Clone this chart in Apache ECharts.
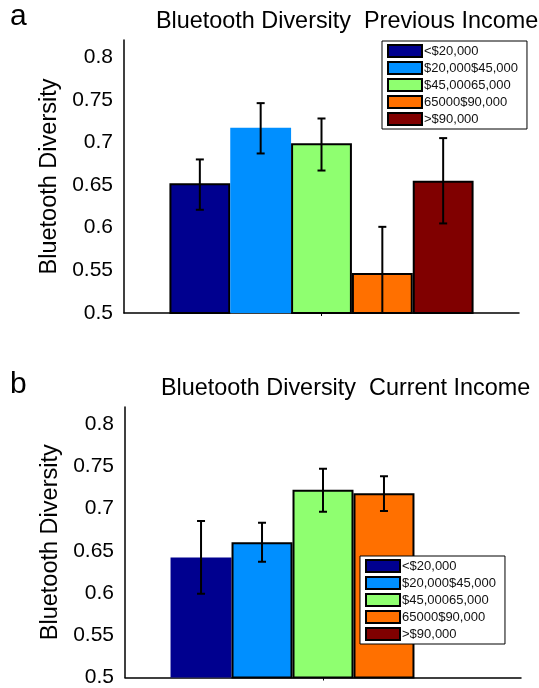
<!DOCTYPE html>
<html>
<head>
<meta charset="utf-8">
<script src="https://cdn.jsdelivr.net/npm/echarts@6/dist/echarts.min.js"></script>
<style>
html,body{margin:0;padding:0;background:#fff;}
#c{width:539px;height:688px;}
</style>
</head>
<body>
<div id="c"></div>
<script>
// ---- data ----
const incomeGroups = ['<$20,000', '$20,000$45,000', '$45,00065,000', '65000$90,000', '>$90,000'];
const groupColors = ['#00008F', '#008FFF', '#8FFF70', '#FF7000', '#800000'];

const prevMean = [0.652, 0.717, 0.699, 0.547, 0.655];
const prevLow  = [0.621, 0.687, 0.667, 0.493, 0.605];
const prevHigh = [0.680, 0.746, 0.728, 0.601, 0.705];

const currMean = [0.642, 0.660, 0.722, 0.718, null];
const currLow  = [0.599, 0.637, 0.696, 0.697, null];
const currHigh = [0.685, 0.683, 0.747, 0.738, null];

const yTicks = { min: 0.5, max: 0.82, interval: 0.05 };
const titles = ['Bluetooth Diversity  Previous Income', 'Bluetooth Diversity  Current Income'];
const panelLetters = ['a', 'b'];
const yName = 'Bluetooth Diversity';

// ---- style ----
const FONT = "'Liberation Sans', Arial, Helvetica, sans-serif";
const CAT_GAP = 0.23;
const noBorder = [[1], [0]]; // bars drawn without outline in reference

const chart = echarts.init(document.getElementById('c'), null, { renderer: 'canvas' });

function barSeries(means, gi) {
  return incomeGroups.map((name, i) => ({
    type: 'bar',
    name: name,
    xAxisIndex: gi,
    yAxisIndex: gi,
    barGap: '0%',
    barCategoryGap: (CAT_GAP * 100) + '%',
    data: [means[i] == null ? '-' : means[i]],
    itemStyle: {
      color: groupColors[i],
      borderColor: noBorder[gi].indexOf(i) >= 0 ? groupColors[i] : '#000',
      borderWidth: noBorder[gi].indexOf(i) >= 0 ? 0 : 2
    },
    emphasis: { disabled: true },
    animation: false
  }));
}

function errSeries(means, lows, highs, gi) {
  const data = [];
  means.forEach((m, i) => { if (m != null) data.push([0, i, lows[i], highs[i]]); });
  return {
    type: 'custom',
    name: 'err' + gi,
    xAxisIndex: gi,
    yAxisIndex: gi,
    clip: true,
    z: 5,
    encode: { x: 0, y: [2, 3] },
    data: data,
    animation: false,
    renderItem: function (params, api) {
      const c = api.value(0), i = api.value(1);
      const top = api.coord([c, api.value(3)]);
      const bot = api.coord([c, api.value(2)]);
      const band = api.size([1, 0])[0];
      const total = band * (1 - CAT_GAP);
      const bw = total / incomeGroups.length;
      const x = top[0] - total / 2 + (i + 0.5) * bw;
      const cap = 4;
      const st = { stroke: '#000', lineWidth: 2 };
      return {
        type: 'group',
        children: [
          { type: 'line', shape: { x1: x, y1: top[1], x2: x, y2: bot[1] }, style: st },
          { type: 'line', shape: { x1: x - cap, y1: top[1], x2: x + cap, y2: top[1] }, style: st },
          { type: 'line', shape: { x1: x - cap, y1: bot[1], x2: x + cap, y2: bot[1] }, style: st }
        ]
      };
    }
  };
}

const grids = [
  { left: 124, top: 40, width: 395, height: 273 },
  { left: 125, top: 407, width: 396, height: 273 }
];

function xAxis(gi) {
  return {
    type: 'category', gridIndex: gi, data: [''],
    axisLine: { lineStyle: { color: '#000', width: 1.5 } },
    axisTick: { show: true, alignWithLabel: true, length: 3, lineStyle: { color: '#000' } },
    axisLabel: { show: false },
    splitLine: { show: false }
  };
}
function yAxis(gi) {
  return {
    type: 'value', gridIndex: gi,
    min: yTicks.min, max: yTicks.max, interval: yTicks.interval,
    name: yName, nameLocation: 'middle', nameGap: 61,
    nameTextStyle: { fontFamily: FONT, fontSize: 23.5, color: '#000' },
    axisLine: { show: true, lineStyle: { color: '#000', width: 1.5 } },
    axisTick: { show: false },
    splitLine: { show: false },
    axisLabel: { showMaxLabel: false, fontFamily: FONT, fontSize: 21, color: '#000', margin: 11 }
  };
}
function legend(gi, left, top) {
  return {
    show: true,
    data: incomeGroups.slice(),
    orient: 'vertical',
    left: left, top: top,
    icon: 'rect',
    itemWidth: 34, itemHeight: 12, itemGap: 3,
    padding: [3, 9, 3, 5],
    borderColor: '#000', borderWidth: 1,
    backgroundColor: '#fff',
    selectedMode: false,
    itemStyle: { borderColor: '#000', borderWidth: 2 },
    textStyle: { fontFamily: FONT, fontSize: 13, lineHeight: 12, color: '#111', padding: [0, 0, 0, -3] },
    z: 10
  };
}

const titleStyle = { fontFamily: FONT, fontSize: 23.4, fontWeight: 'normal', color: '#000' };
const letterStyle = { fontFamily: FONT, fontSize: 30, fontWeight: 'normal', color: '#000' };

const option = {
  backgroundColor: '#fff',
  animation: false,
  title: [
    { text: titles[0], left: 156, top: 10, padding: 0, textStyle: titleStyle },
    { text: titles[1], left: 161, top: 377, padding: 0, textStyle: titleStyle },
    { text: panelLetters[0], left: 10, top: 2, padding: 0, textStyle: letterStyle },
    { text: panelLetters[1], left: 10, top: 370, padding: 0, textStyle: letterStyle }
  ],
  legend: [legend(0, 382, 41), legend(1, 360, 556)],
  grid: grids,
  xAxis: [xAxis(0), xAxis(1)],
  yAxis: [yAxis(0), yAxis(1)],
  series: [].concat(
    barSeries(prevMean, 0),
    barSeries(currMean, 1),
    [errSeries(prevMean, prevLow, prevHigh, 0), errSeries(currMean, currLow, currHigh, 1)]
  )
};
chart.setOption(option);
</script>
</body>
</html>
